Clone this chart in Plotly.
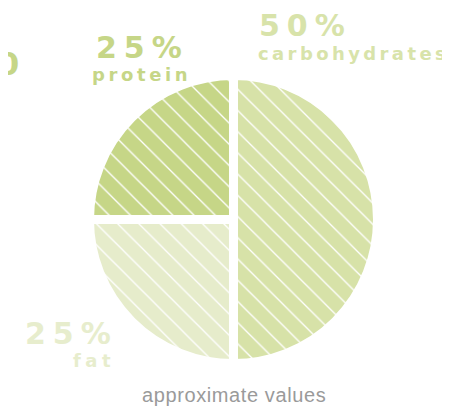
import plotly.graph_objects as go

W, H = 450, 408
OFF = 8  # page body margin offset

# Data
labels = ["carbohydrates", "fat", "protein"]
values = [50, 25, 25]
pct_labels = ["50%", "25%", "25%"]
slice_colors = ["#d7e2a8", "#e6eccb", "#c6d687"]
text_colors = ["#d8e3aa", "#e7edcd", "#c6d687"]
footnote = "approximate values"
edge_text = "0"

def px(x):
    return (x - OFF) / W

def py(y):
    return 1 - (y - OFF) / H

cx, cy, R = 233.5, 219.5, 144
fig = go.Figure(go.Pie(
    labels=labels,
    values=values,
    sort=False,
    direction="clockwise",
    rotation=0,
    textinfo="none",
    hoverinfo="skip",
    showlegend=False,
    marker=dict(
        colors=slice_colors,
        line=dict(color="white", width=9),
        pattern=dict(shape="\\", fgcolor="white", bgcolor=slice_colors,
                     size=15, solidity=0.09, fillmode="replace"),
    ),
    domain=dict(x=[px(cx - R), px(cx + R)], y=[py(cy + R), py(cy - R)]),
))

big = "DejaVu Sans"

def spaced(t, ls, bold=True):
    s = '<span style="letter-spacing:%spx">%s</span>' % (ls, t)
    return "<b>%s</b>" % s if bold else s

anns = []
# carbohydrates (left aligned)
anns.append(dict(x=px(258), y=py(26), text=spaced(pct_labels[0], 7), xanchor="left", yanchor="middle",
                 font=dict(family=big, size=30, color=text_colors[0])))
anns.append(dict(x=px(257), y=py(53), text=spaced(labels[0], 3.4), xanchor="left", yanchor="middle",
                 font=dict(family=big, size=18, color=text_colors[0])))
# protein (centered)
anns.append(dict(x=px(142.5), y=py(47), text=spaced(pct_labels[2], 7), xanchor="center", yanchor="middle",
                 font=dict(family=big, size=30, color=text_colors[2])))
anns.append(dict(x=px(141), y=py(75), text=spaced(labels[2], 3.6), xanchor="center", yanchor="middle",
                 font=dict(family=big, size=18, color=text_colors[2])))
# fat (right aligned)
anns.append(dict(x=px(119), y=py(333), text=spaced(pct_labels[1], 7), xanchor="right", yanchor="middle",
                 font=dict(family=big, size=30, color=text_colors[1])))
anns.append(dict(x=px(116), y=py(360), text=spaced(labels[1], 4.5), xanchor="right", yanchor="middle",
                 font=dict(family=big, size=18, color=text_colors[1])))
# cut-off glyph at left edge
anns.append(dict(x=px(20), y=py(64), text="<b>%s</b>" % edge_text, xanchor="right", yanchor="middle",
                 font=dict(family=big, size=32, color=text_colors[2])))
# footnote
anns.append(dict(x=px(234), y=py(395), text=spaced(footnote, 0.6, bold=False), xanchor="center", yanchor="middle",
                 font=dict(family="Liberation Sans", size=20, color="#9a9a9a")))

for a in anns:
    a.update(xref="paper", yref="paper", showarrow=False, borderpad=0)

fig.update_layout(
    width=W, height=H,
    margin=dict(l=0, r=0, t=0, b=0),
    paper_bgcolor="white", plot_bgcolor="white",
    annotations=anns,
)

fig.write_html("out.html")
